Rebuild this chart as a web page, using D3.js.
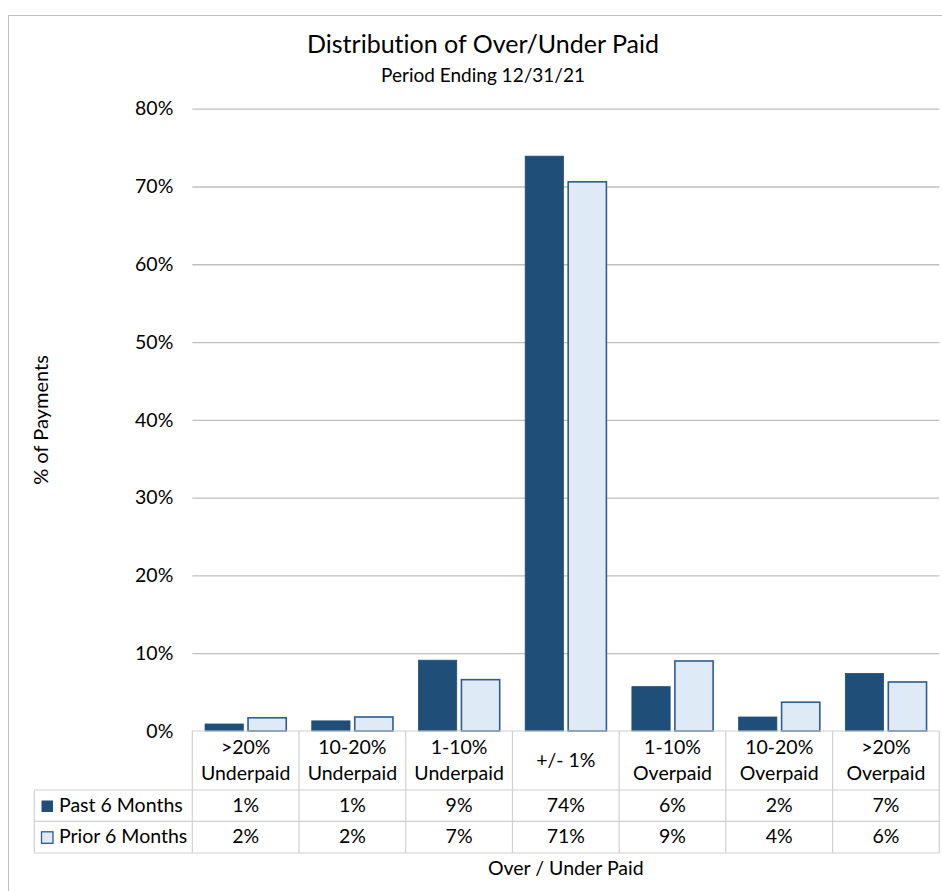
<!DOCTYPE html>
<html>
<head>
<meta charset="utf-8">
<script src="https://cdn.jsdelivr.net/npm/d3@7"></script>
<style>
  html, body { margin: 0; padding: 0; background: #fff; }
  svg { display: block; }
  text { font-family: Lato, "Open Sans", sans-serif; fill: #000; font-variant-ligatures: none; font-feature-settings: "liga" 0; }
</style>
</head>
<body>
<svg id="chart" width="942" height="891"></svg>
<script>
// ---- Data ----
const categories = [">20%\nUnderpaid", "10-20%\nUnderpaid", "1-10%\nUnderpaid", "+/- 1%", "1-10%\nOverpaid", "10-20%\nOverpaid", ">20%\nOverpaid"];
const seriesNames = ["Past 6 Months", "Prior 6 Months"];
const pastValues = [0.9, 1.3, 9.1, 73.9, 5.7, 1.8, 7.4];
const priorValues = [1.7, 1.8, 6.6, 70.6, 9.0, 3.7, 6.3];
const yTicks = [0, 10, 20, 30, 40, 50, 60, 70, 80];
const titleText = "Distribution of Over/Under Paid";
const subtitleText = "Period Ending 12/31/21";
const yAxisTitle = "% of Payments";
const xAxisTitle = "Over / Under Paid";

const seriesValues = [pastValues, priorValues];
const colors = { fill: ["#1f4e79", "#deebf7"], stroke: ["#1f4e79", "#2f5b8f"] };

// ---- Layout ----
const svg = d3.select("#chart");
const plotLeft = 192.3, plotRight = 939.3, plotTop = 108.7, plotBottom = 731;
const tableLeft = 34.3;
const headerBottom = 790, row1Bottom = 821.3, row2Bottom = 853;

// outer border (extends past right/bottom)
svg.append("rect").attr("x", 8.5).attr("y", 15.5).attr("width", 1000).attr("height", 1000)
  .attr("fill", "none").attr("stroke", "#bfbfbf").attr("stroke-width", 1);

const y = d3.scaleLinear().domain([0, 80]).range([plotBottom, plotTop]);
const col = d3.scaleBand().domain(categories).range([plotLeft, plotRight]);
const x0 = d3.scaleBand().domain(categories).range([plotLeft, plotRight]).paddingInner(0.225).paddingOuter(0.1125);
const x1 = d3.scaleBand().domain(seriesNames).range([0, x0.bandwidth()]).paddingInner(0.075);

// gridlines via axis
const yAxis = d3.axisLeft(y).tickValues(yTicks).tickSize(-(plotRight - plotLeft)).tickPadding(19)
  .tickFormat(d => d + "%");
const gy = svg.append("g").attr("transform", `translate(${plotLeft},0)`).call(yAxis);
gy.select(".domain").remove();
gy.selectAll(".tick line").attr("stroke", "#bfbfbf").attr("stroke-width", 1.3);
gy.selectAll(".tick").filter(d => d === 0).select("line").remove();
gy.selectAll(".tick text").attr("font-size", 19.5).attr("fill", "#000")
  .attr("font-family", "Lato, sans-serif");

// bars
const groups = svg.append("g").selectAll("g").data(categories).join("g")
  .attr("transform", d => `translate(${x0(d)},0)`);
groups.selectAll("rect").data((d, i) => seriesNames.map((s, k) => ({ s, k, v: seriesValues[k][i] })))
  .join("rect")
  .attr("x", d => x1(d.s) + 0.75)
  .attr("width", x1.bandwidth() - 1.5)
  .attr("y", d => y(d.v))
  .attr("height", d => y(0) - y(d.v))
  .attr("fill", d => colors.fill[d.k])
  .attr("stroke", d => colors.stroke[d.k])
  .attr("stroke-width", d => d.k === 1 ? 1.6 : 0.8);

// table lines
const lineColor = "#d0d0d0";
const tbl = svg.append("g").attr("stroke", lineColor).attr("stroke-width", 1.2);
tbl.append("line").attr("x1", plotLeft).attr("x2", plotRight).attr("y1", plotBottom).attr("y2", plotBottom);
[headerBottom, row1Bottom, row2Bottom].forEach(yy => {
  tbl.append("line").attr("x1", tableLeft).attr("x2", plotRight).attr("y1", yy).attr("y2", yy);
});
tbl.append("line").attr("x1", tableLeft).attr("x2", tableLeft).attr("y1", headerBottom).attr("y2", row2Bottom);
categories.concat([null]).forEach((c, i) => {
  const xx = c === null ? plotRight : col(c);
  tbl.append("line").attr("x1", xx).attr("x2", xx).attr("y1", plotBottom).attr("y2", row2Bottom);
});

// category header labels
const fs = 19.5;
categories.forEach(c => {
  const lines = c.split("\n");
  const cx = col(c) + col.bandwidth() / 2;
  const t = svg.append("text").attr("text-anchor", "middle").attr("font-size", fs);
  if (lines.length === 1) {
    t.attr("x", cx).attr("y", 767).text(lines[0]);
  } else {
    lines.forEach((ln, j) => {
      t.append("tspan").attr("x", cx).attr("y", 754 + j * 26).text(ln);
    });
  }
});

// data rows
const rowBaselines = [811.5, 842.5];
const rowTops = [headerBottom, row1Bottom];
seriesNames.forEach((s, k) => {
  // legend key
  svg.append("rect").attr("x", 41.5).attr("y", rowTops[k] + 10.5).attr("width", 11.5).attr("height", 11.5)
    .attr("fill", colors.fill[k]).attr("stroke", colors.stroke[k]).attr("stroke-width", k === 1 ? 1.3 : 0);
  svg.append("text").attr("x", 59).attr("y", rowBaselines[k]).attr("font-size", fs).text(s);
  categories.forEach((c, i) => {
    svg.append("text").attr("x", col(c) + col.bandwidth() / 2).attr("y", rowBaselines[k])
      .attr("text-anchor", "middle").attr("font-size", fs)
      .text(d3.format(".0f")(seriesValues[k][i]) + "%");
  });
});

// titles
svg.append("text").attr("x", 483).attr("y", 52.5).attr("text-anchor", "middle").attr("font-size", 25).text(titleText);
svg.append("text").attr("x", 483).attr("y", 81.5).attr("text-anchor", "middle").attr("font-size", 19).text(subtitleText);
svg.append("text").attr("transform", "translate(48,420) rotate(-90)").attr("text-anchor", "middle")
  .attr("font-size", 20).text(yAxisTitle);
svg.append("text").attr("x", (plotLeft + plotRight) / 2).attr("y", 875).attr("text-anchor", "middle")
  .attr("font-size", 19.5).text(xAxisTitle);
</script>
</body>
</html>
